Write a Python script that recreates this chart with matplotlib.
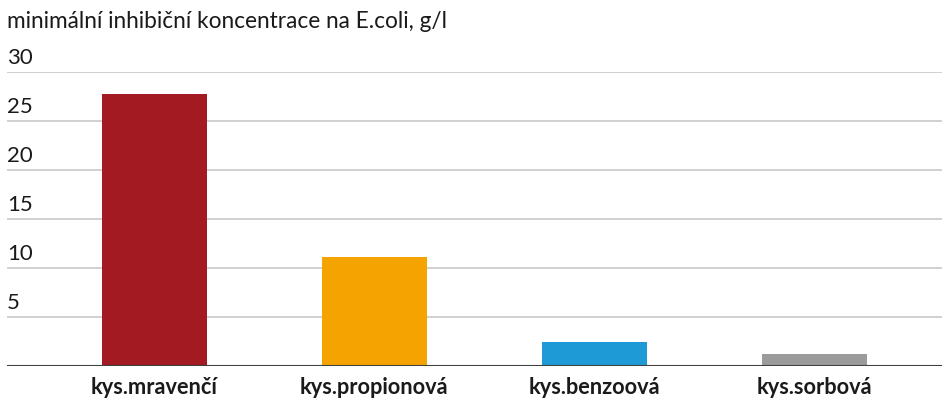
import matplotlib
matplotlib.use("Agg")
import matplotlib.pyplot as plt
import matplotlib.transforms as mtransforms

categories = ["kys.mravenčí", "kys.propionová", "kys.benzoová", "kys.sorbová"]
values = [27.8, 11.1, 2.45, 1.2]
colors = ["#A31A22", "#F5A300", "#1E9BD7", "#9B9B9B"]
yticks = [5, 10, 15, 20, 25, 30]
title = "minimální inhibiční koncentrace na E.coli, g/l"

plt.rcParams['font.family'] = ['Lato', 'DejaVu Sans']

fig = plt.figure(figsize=(9.42, 4.01), dpi=100)
ax = fig.add_axes([7/942, 1 - 366/401, 935/942, 294/401])

x = list(range(len(categories)))
ax.bar(x, values, width=0.477, color=colors, zorder=3)
ax.set_xlim(-0.67, 3.58)
ax.set_ylim(0, 30)

for t in yticks:
    ax.axhline(t, color="#C8C8C8", lw=1.2, zorder=1)
ax.axhline(0, color="#404040", lw=1.5, zorder=4)

trans = mtransforms.blended_transform_factory(ax.transAxes, ax.transData)
for t in yticks:
    ax.text(0, t + 0.45, str(t), transform=trans, ha="left", va="bottom",
            fontsize=16, color="#1a1a1a")

ax.set_yticks([])
ax.set_xticks(x)
ax.set_xticklabels(categories, fontsize=15.7, fontweight="bold", color="#1a1a1a")
ax.tick_params(axis="x", length=0, pad=8)
for s in ax.spines.values():
    s.set_visible(False)

fig.text(7/942, 1 - 21/401, title, ha="left", va="center", fontsize=16.3, color="#1a1a1a")

fig.savefig("out.png", dpi=100)
